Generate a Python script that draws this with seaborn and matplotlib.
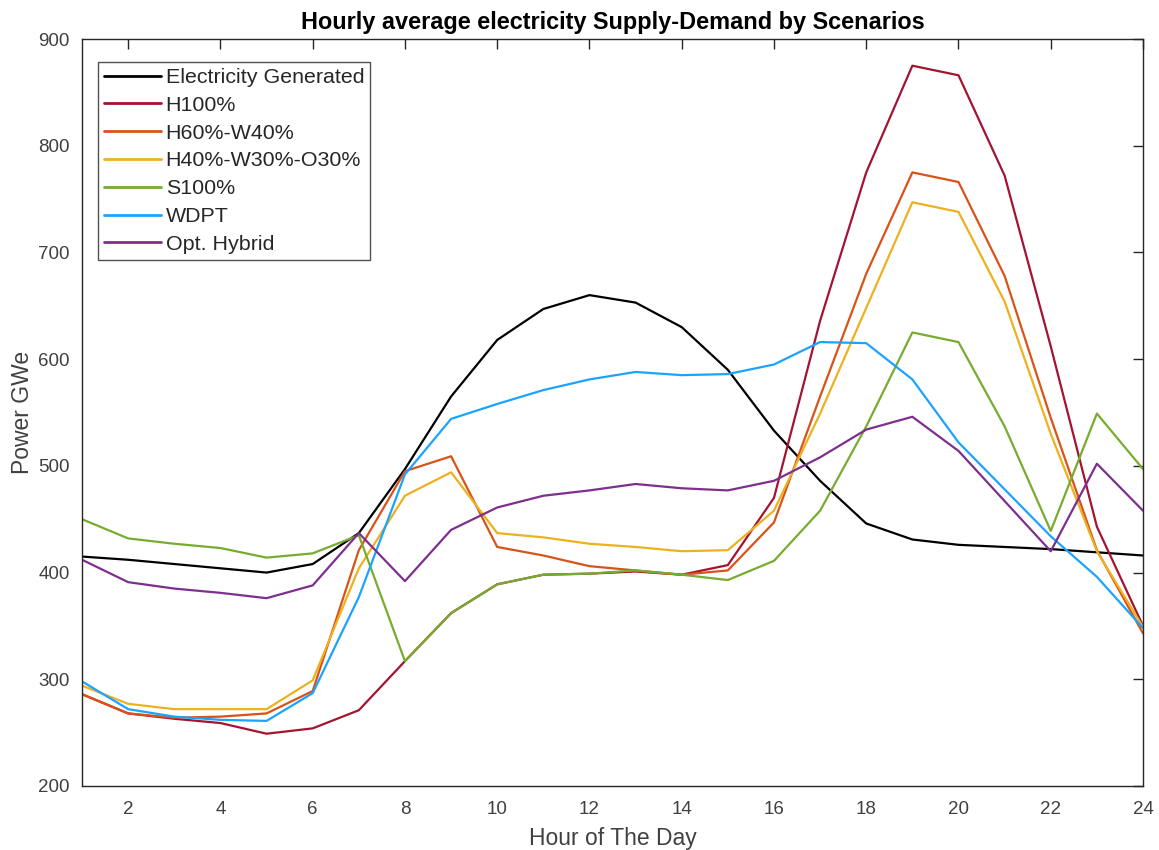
import numpy as np
import pandas as pd
import matplotlib
matplotlib.use("Agg")
import matplotlib.pyplot as plt
import seaborn as sns

# Hourly average supply/demand (GWe) per scenario
hours = list(range(1, 25))
generated = [415, 412, 408, 404, 400, 408, 437, 497, 565, 618, 647, 660,
             653, 630, 590, 533, 486, 446, 431, 426, 424, 422, 419, 416]
h100 = [286, 268, 263, 259, 249, 254, 271, 317, 362, 389, 398, 399,
        401, 398, 407, 470, 636, 775, 875, 866, 772, 612, 443, 350]
h60_w40 = [286, 268, 264, 265, 268, 289, 421, 495, 509, 424, 416, 406,
           402, 398, 402, 447, 565, 680, 775, 766, 678, 545, 421, 343]
h40_w30_o30 = [294, 277, 272, 272, 272, 299, 404, 472, 494, 437, 433, 427,
               424, 420, 421, 458, 549, 648, 747, 738, 654, 530, 420, 349]
s100 = [450, 432, 427, 423, 414, 418, 435, 317, 362, 389, 398, 399,
        402, 398, 393, 411, 458, 537, 625, 616, 537, 439, 549, 497]
wdpt = [298, 272, 265, 262, 261, 287, 377, 492, 544, 558, 571, 581,
        588, 585, 586, 595, 616, 615, 581, 522, 478, 434, 396, 348]
opt_hybrid = [412, 391, 385, 381, 376, 388, 437, 392, 440, 461, 472, 477,
              483, 479, 477, 486, 508, 534, 546, 514, 467, 420, 502, 458]

series_names = ["Electricity Generated", "H100%", "H60%-W40%", "H40%-W30%-O30%",
                "S100%", "WDPT", "Opt. Hybrid"]
series_values = [generated, h100, h60_w40, h40_w30_o30, s100, wdpt, opt_hybrid]
colors = ["#000000", "#A2142F", "#D95319", "#EDB120", "#77AC30", "#1CA3FF", "#7E2F8E"]

df = pd.DataFrame({
    "hour": np.tile(hours, len(series_names)),
    "power": np.concatenate(series_values),
    "scenario": np.repeat(series_names, len(hours)),
})

sns.set_theme(style="white")
plt.rcParams["font.family"] = ["Liberation Sans", "DejaVu Sans"]
axis_color = "#262626"
label_color = "#404040"

fig = plt.figure(figsize=(11.59, 8.5), dpi=100)
ax = fig.add_axes([0.0708, 0.0753, 0.9154, 0.8788])

sns.lineplot(data=df, x="hour", y="power", hue="scenario",
             hue_order=series_names, palette=colors, linewidth=1.6,
             ax=ax, legend=True)

ax.set_xlim(1, 24)
ax.set_ylim(200, 900)
ax.set_xticks(range(2, 25, 2))
ax.set_yticks(range(200, 901, 100))
ax.tick_params(axis="both", which="both", direction="in", length=7, width=1.0,
               top=True, right=True, labelsize=13.5, labelcolor=label_color,
               color=axis_color)
ax.tick_params(axis="x", pad=11)
ax.tick_params(axis="y", pad=9)
for spine in ax.spines.values():
    spine.set_visible(True)
    spine.set_color(axis_color)
    spine.set_linewidth(1.0)

ax.set_xlabel("Hour of The Day", fontsize=16.5, color=label_color, labelpad=6)
ax.set_ylabel("Power GWe", fontsize=16.5, color=label_color, labelpad=3)
ax.set_title("Hourly average electricity Supply-Demand by Scenarios",
             fontsize=16.9, fontweight="bold", color="#000000", pad=7)

leg = ax.legend(loc="upper left", bbox_to_anchor=(0.0153, 0.969), fontsize=15.4,
                frameon=True, fancybox=False, edgecolor=axis_color,
                borderpad=0.28, labelspacing=0.41, handlelength=2.65,
                handletextpad=0.22, borderaxespad=0.0)
leg.get_frame().set_linewidth(1.0)
for line in leg.get_lines():
    line.set_linewidth(2.0)
for txt in leg.get_texts():
    txt.set_color("#262626")

fig.savefig("out.png", dpi=100)
